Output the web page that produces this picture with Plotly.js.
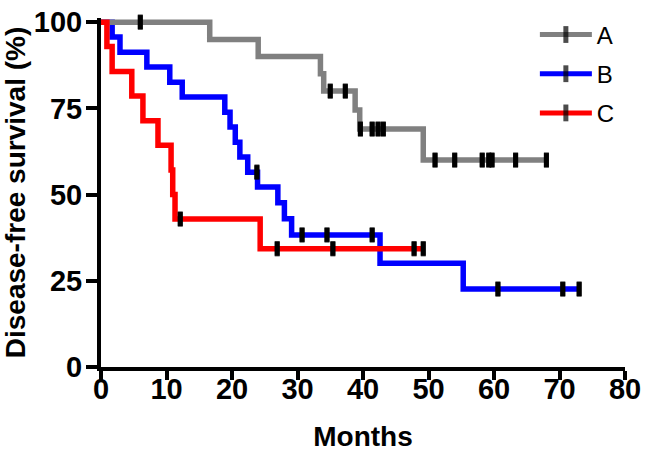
<!DOCTYPE html>
<html>
<head>
<meta charset="utf-8">
<script src="https://cdn.plot.ly/plotly-3.0.1.min.js"></script>
<style>html,body{margin:0;padding:0;background:#fff;}#chart{width:645px;height:453px;}</style>
</head>
<body>
<div id="chart"></div>
<script>
// Group names
var groupNames = ['A', 'B', 'C'];
var groupColors = ['#808080', '#0000ff', '#ff0000'];

// Group A: event times (months) and survival (%) after each event, censor times
var aEventTimes = [16.6, 24.0, 33.5, 34.0, 38.8, 39.5, 49.2];
var aEventSurv  = [95.0, 90.0, 85.0, 80.0, 74.5, 69.0, 60.0];
var aCensorTimes = [6.0, 35.0, 37.3, 39.6, 41.4, 42.3, 43.1, 51.0, 54.0, 58.2, 59.2, 59.7, 63.3, 68.0];

// Group B
var bEventTimes = [1.7, 2.9, 7.0, 10.5, 12.4, 18.9, 19.7, 20.5, 21.2, 22.4, 23.9, 27.0, 28.0, 29.1, 42.6, 55.3];
var bEventSurv  = [95.7, 91.3, 87.0, 82.6, 78.3, 73.9, 69.6, 65.2, 60.9, 56.5, 52.2, 47.6, 43.0, 38.3, 30.1, 22.6];
var bCensorTimes = [23.8, 30.7, 34.5, 41.4, 60.6, 70.5, 73.0];

// Group C
var cEventTimes = [0.9, 1.7, 4.7, 6.4, 8.7, 10.7, 10.95, 11.3, 24.3];
var cEventSurv  = [92.9, 85.7, 78.6, 71.4, 64.3, 57.1, 50.0, 42.9, 34.3];
var cCensorTimes = [12.1, 26.9, 35.4, 47.8, 49.2];

// Axis ticks
var xTicks = [0, 10, 20, 30, 40, 50, 60, 70, 80];
var yTicks = [0, 25, 50, 75, 100];

function survivalAt(evT, evS, t) {
  var s = 100;
  evT.forEach(function (et, i) { if (et <= t) s = evS[i]; });
  return s;
}

function buildKM(evT, evS, cenT) {
  var pts = [{t: 0, s: 100, c: false}];
  evT.forEach(function (t, i) { pts.push({t: t, s: evS[i], c: false}); });
  cenT.forEach(function (t) { pts.push({t: t, s: survivalAt(evT, evS, t), c: true}); });
  pts.sort(function (a, b) { return a.t - b.t; });
  return {
    x: pts.map(function (p) { return p.t; }),
    y: pts.map(function (p) { return p.s; }),
    size: pts.map(function (p) { return p.c ? 11 : 0; }),
    cx: cenT.slice(),
    cy: cenT.map(function (t) { return survivalAt(evT, evS, t); })
  };
}

var groups = [
  buildKM(aEventTimes, aEventSurv, aCensorTimes),
  buildKM(bEventTimes, bEventSurv, bCensorTimes),
  buildKM(cEventTimes, cEventSurv, cCensorTimes)
];

var drawOrder = [1, 0, 2];
var traces = [];
drawOrder.forEach(function (gi) {
  var g = groups[gi];
  traces.push({
    type: 'scatter',
    mode: 'lines+markers',
    name: groupNames[gi],
    legendgroup: groupNames[gi],
    legendrank: gi + 1,
    x: g.x,
    y: g.y,
    line: {shape: 'hv', color: groupColors[gi], width: 5.5},
    marker: {symbol: 'line-ns', size: g.size, color: '#000000',
             line: {color: '#000000', width: 5}},
    cliponaxis: false,
    hoverinfo: 'skip'
  });
});
drawOrder.forEach(function (gi) {
  var g = groups[gi];
  traces.push({
    type: 'scatter',
    mode: 'markers',
    showlegend: false,
    legendgroup: groupNames[gi],
    x: g.cx,
    y: g.cy,
    marker: {symbol: 'line-ns', size: 10, color: '#000000',
             line: {color: '#000000', width: 5}},
    cliponaxis: false,
    hoverinfo: 'skip'
  });
});

var tickFont = {family: 'Liberation Sans Narrow, Arial Narrow, sans-serif', size: 29, color: '#000', weight: 'bold'};
var titleFont = {family: 'Liberation Sans, Arial, sans-serif', size: 28, color: '#000', weight: 'bold'};

var layout = {
  width: 645,
  height: 453,
  margin: {l: 101, r: 20, t: 14, b: 86},
  paper_bgcolor: '#ffffff',
  plot_bgcolor: '#ffffff',
  showlegend: true,
  legend: {
    x: 0.828, y: 1.016, xanchor: 'left', yanchor: 'top',
    font: {family: 'Liberation Sans, Arial, sans-serif', size: 24, color: '#000'},
    traceorder: 'grouped', tracegroupgap: 5,
    itemsizing: 'constant', itemwidth: 52,
    bgcolor: 'rgba(0,0,0,0)'
  },
  xaxis: {
    range: [0, 80],
    tickvals: xTicks,
    ticktext: xTicks.map(String),
    ticks: 'outside', ticklen: 9, tickwidth: 4, tickcolor: '#000',
    showline: true, linewidth: 4, linecolor: '#000',
    showgrid: false, zeroline: false,
    tickfont: tickFont,
    ticklabelstandoff: -16,
    title: {text: 'Months', font: titleFont, standoff: 24}
  },
  yaxis: {
    range: [0, 101.2],
    tickvals: yTicks,
    ticktext: yTicks.map(String),
    ticks: 'outside', ticklen: 11, tickwidth: 4, tickcolor: '#000',
    showline: true, linewidth: 4, linecolor: '#000',
    showgrid: false, zeroline: false,
    tickfont: tickFont,
    ticklabelstandoff: -2,
    title: {text: 'Disease-free survival (%)', font: titleFont, standoff: 4}
  }
};

function fixLegendTicks(gd) {
  gd.querySelectorAll('.legend path.scatterpts').forEach(function (p) {
    p.style.strokeWidth = '5px';
  });
}

Plotly.newPlot('chart', traces, layout, {displayModeBar: false, staticPlot: true}).then(function (gd) {
  fixLegendTicks(gd);
  gd.on('plotly_afterplot', function () { fixLegendTicks(gd); });
});
</script>
</body>
</html>
